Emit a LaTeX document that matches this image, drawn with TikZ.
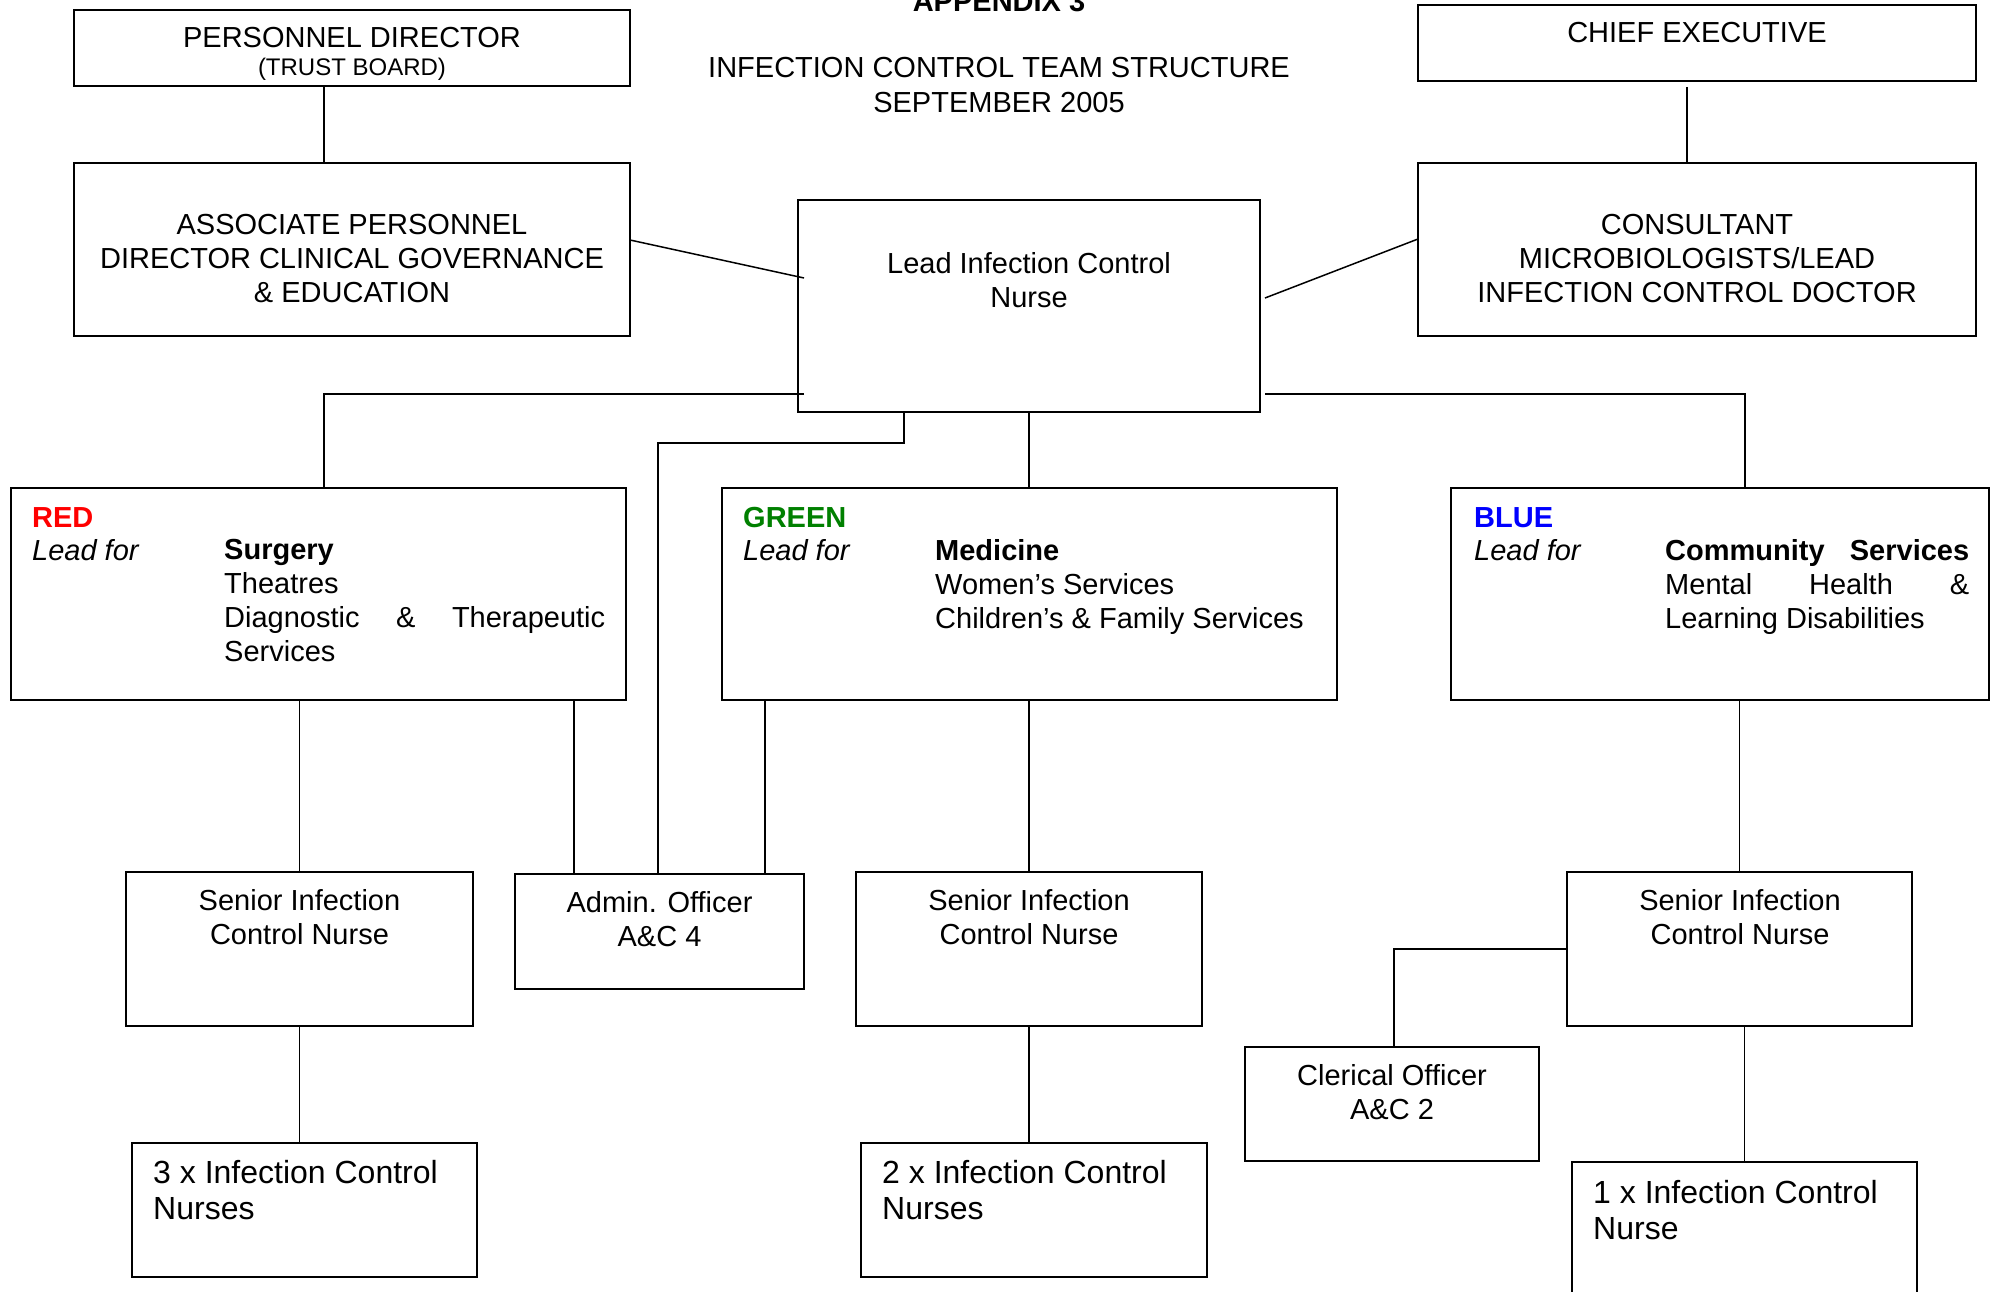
\documentclass[tikz,border=0pt]{standalone}
\usepackage{fontspec}
\setmainfont{Liberation Sans}
\definecolor{redc}{RGB}{255,0,0}
\definecolor{greenc}{RGB}{0,128,0}
\definecolor{bluec}{RGB}{0,0,255}
\begin{document}
\begin{tikzpicture}[x=1pt,y=-1pt,
  box/.style={draw, line width=2pt, inner sep=0pt, outer sep=0pt},
  conn/.style={line width=1.5pt},
  mainfont/.style={font=\fontsize{29}{34}\selectfont},
  tl/.style={mainfont, inner sep=0pt, anchor=base},
  tm/.style={mainfont, inner sep=0pt, anchor=north, align=center},
  tleft/.style={mainfont, inner sep=0pt, anchor=base west},
  tlist/.style={mainfont, inner sep=0pt, anchor=north west, align=left},
  tbig/.style={font=\fontsize{32}{36}\selectfont, inner sep=0pt, anchor=north west, align=left}]
\useasboundingbox (0,0) rectangle (1993,1292);
\fill[white] (0,0) rectangle (1993,1292);

% boxes
\node[box, minimum width=556pt, minimum height=76pt] (pd) at (352,48) {};
\node[box, minimum width=558pt, minimum height=76pt] (ce) at (1697,43) {};
\node[box, minimum width=556pt, minimum height=173pt] (apd) at (352,249.5) {};
\node[box, minimum width=558pt, minimum height=173pt] (cmd) at (1697,249.5) {};
\node[box, minimum width=462pt, minimum height=212pt] (lead) at (1029,306) {};
\node[box, minimum width=615pt, minimum height=212pt] (red) at (318.5,594) {};
\node[box, minimum width=615pt, minimum height=212pt] (green) at (1029.5,594) {};
\node[box, minimum width=538pt, minimum height=212pt] (blue) at (1720,594) {};
\node[box, minimum width=347pt, minimum height=154pt] (s1) at (299.5,949) {};
\node[box, minimum width=289pt, minimum height=115pt] (admin) at (659.5,931.5) {};
\node[box, minimum width=346pt, minimum height=154pt] (s2) at (1029,949) {};
\node[box, minimum width=345pt, minimum height=154pt] (s3) at (1739.5,949) {};
\node[box, minimum width=294pt, minimum height=114pt] (cler) at (1392,1104) {};
\node[box, minimum width=345pt, minimum height=134pt] (n3) at (304.5,1210) {};
\node[box, minimum width=346pt, minimum height=134pt] (n2) at (1034,1210) {};
\node[box, minimum width=345pt, minimum height=158pt] (n1) at (1744.5,1241) {};

% titles
\node[tl, font=\fontsize{29}{34}\selectfont\bfseries] (app) at (999,12) {APPENDIX 3};
\node[tl] (t1) at (999,78) {INFECTION CONTROL TEAM STRUCTURE};
\node[tl] (t2) at (999,113) {SEPTEMBER 2005};

% box texts
\node[tl] (pdt1) at (352,48) {PERSONNEL DIRECTOR};
\node[tl, font=\fontsize{24}{28}\selectfont] (pdt2) at (352,76) {(TRUST BOARD)};
\node[tl] (cet) at (1697,43) {CHIEF EXECUTIVE};
\node[tm] (apdt) at (352,214) {ASSOCIATE PERSONNEL\\DIRECTOR CLINICAL GOVERNANCE\\\& EDUCATION};
\node[tm] (cmdt) at (1697,214) {CONSULTANT\\MICROBIOLOGISTS/LEAD\\INFECTION CONTROL DOCTOR};
\node[tm] (leadt) at (1029,252) {Lead Infection Control\\Nurse};

\node[tleft, font=\fontsize{29}{34}\selectfont\bfseries, text=redc] (redh) at (32,527) {RED};
\node[tleft, font=\fontsize{29}{34}\selectfont\itshape] (redl) at (32,560) {Lead for};
\node[tlist] (redt) at (224,539) {\textbf{Surgery}\\Theatres\\\makebox[381pt]{Diagnostic\hfill\&\hfill Therapeutic}\\Services};

\node[tleft, font=\fontsize{29}{34}\selectfont\bfseries, text=greenc] (greenh) at (743,527) {GREEN};
\node[tleft, font=\fontsize{29}{34}\selectfont\itshape] (greenl) at (743,560) {Lead for};
\node[tlist] (greent) at (935,539) {\textbf{Medicine}\\Women’s Services\\Children’s \& Family Services};

\node[tleft, font=\fontsize{29}{34}\selectfont\bfseries, text=bluec] (blueh) at (1474,527) {BLUE};
\node[tleft, font=\fontsize{29}{34}\selectfont\itshape] (bluel) at (1474,560) {Lead for};
\node[tlist] (bluet) at (1665,539) {\makebox[304pt]{\textbf{Community}\hfill\textbf{Services}}\\\makebox[304pt]{Mental\hfill Health\hfill\&}\\Learning Disabilities};

\node[tm] (s1t) at (299.5,889) {Senior Infection\\Control Nurse};
\node[tm] (admint) at (659.5,891) {Admin. Officer\\A\&C 4};
\node[tm] (s2t) at (1029,889) {Senior Infection\\Control Nurse};
\node[tm] (s3t) at (1740,889) {Senior Infection\\Control Nurse};
\node[tm] (clert) at (1392,1064) {Clerical Officer\\A\&C 2};
\node[tbig] (n3t) at (153,1160) {3 x Infection Control\\Nurses};
\node[tbig] (n2t) at (882,1160) {2 x Infection Control\\Nurses};
\node[tbig] (n1t) at (1593,1180) {1 x Infection Control\\Nurse};

% connectors
\draw[conn] ([xshift=-28pt]pd.south) -- ([xshift=-28pt]apd.north);
\draw[conn] ([xshift=-10pt,yshift=-6pt]ce.south) -- ([xshift=-10pt]cmd.north);
\draw[conn] ([yshift=9.5pt]apd.east) -- ([xshift=6pt,yshift=28pt]lead.west);
\draw[conn] ([xshift=5pt,yshift=8pt]lead.east) -- ([yshift=10.5pt]cmd.west);
\draw[conn] ([xshift=6pt,yshift=-88pt]lead.west) -| ([xshift=5.5pt]red.north);
\draw[conn] ([xshift=5pt,yshift=-88pt]lead.east) -| ([xshift=25pt]blue.north);
\draw[conn] (lead.south) -- (lead.south |- green.north);
\draw[conn] ([xshift=-125pt]lead.south) -- ++(0,31) -| ([xshift=-1.5pt]admin.north);
\draw[conn] (red.south -| s1.north) -- (s1.north);
\draw[conn] ([xshift=255.5pt]red.south) -- ([xshift=255.5pt]red.south |- admin.north);
\draw[conn] ([xshift=-264.5pt]green.south) -- ([xshift=-264.5pt]green.south |- admin.north);
\draw[conn] (s2.north |- green.south) -- (s2.north);
\draw[conn] (s3.north |- blue.south) -- (s3.north);
\draw[conn] (s1.south) -- (s1.south |- n3.north);
\draw[conn] (s2.south) -- (s2.south |- n2.north);
\draw[conn] (n1.north |- s3.south) -- (n1.north);
\draw[conn] (s3.west) -| ([xshift=2pt]cler.north);
\end{tikzpicture}
\end{document}
